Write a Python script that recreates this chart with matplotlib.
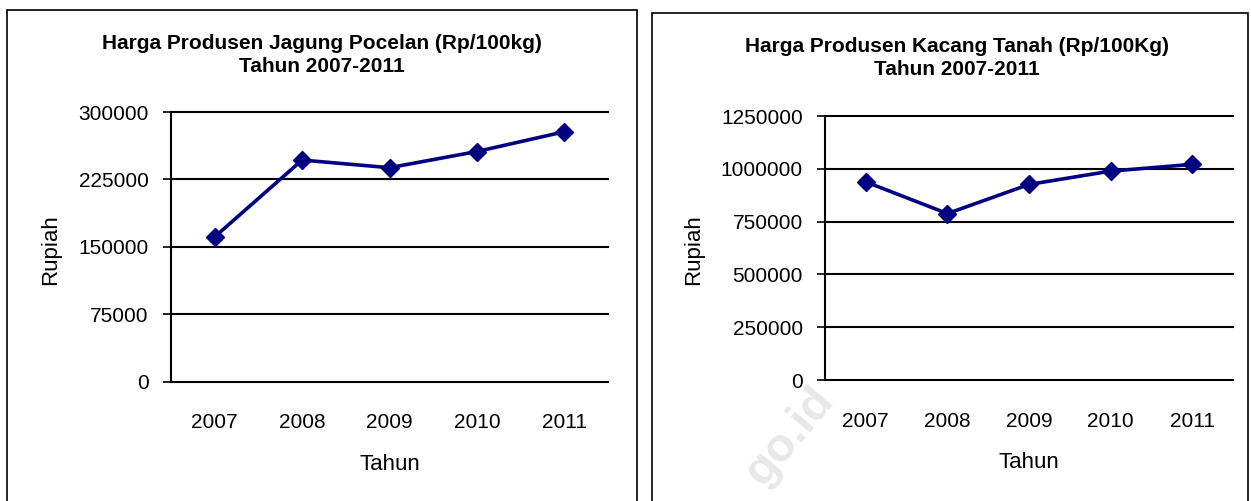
import matplotlib.pyplot as plt
from matplotlib.patches import Rectangle

# data
years = ['2007', '2008', '2009', '2010', '2011']
jagung = [161000, 246500, 238000, 256000, 278000]
kacang = [938000, 788000, 926000, 989000, 1021000]

jagung_ticks = [0, 75000, 150000, 225000, 300000]
kacang_ticks = [0, 250000, 500000, 750000, 1000000, 1250000]

titles = ['Harga Produsen Jagung Pocelan (Rp/100kg)\nTahun 2007-2011',
          'Harga Produsen Kacang Tanah (Rp/100Kg)\nTahun 2007-2011']

plt.rcParams['font.family'] = ['Liberation Sans', 'DejaVu Sans']

W, H = 1251, 501
fig = plt.figure(figsize=(W / 100, H / 100), dpi=100)


def px_box(x0, y0, x1, y1):
    # pixel box (top-left origin) -> figure fraction rect
    return [x0 / W, 1 - y1 / H, (x1 - x0) / W, (y1 - y0) / H]


def draw_panel(rect, values, ticks, title, title_x, title_y, ylab_x, xlab_y):
    ax = fig.add_axes(rect)
    x = range(len(values))
    ax.plot(x, values, color='#000080', lw=2.6, marker='D', ms=9.5, zorder=3)
    ax.set_xlim(-0.5, len(values) - 0.5)
    ax.set_ylim(ticks[0], ticks[-1])
    ax.set_yticks(ticks)
    ax.set_yticklabels([str(t) for t in ticks], fontsize=15)
    ax.set_xticks(list(x))
    ax.set_xticklabels(years, fontsize=15)
    ax.tick_params(axis='x', length=0, pad=23)
    ax.tick_params(axis='y', length=6, width=1.2, pad=10)
    for s in ['top', 'right', 'bottom']:
        ax.spines[s].set_visible(False)
    ax.spines['left'].set_linewidth(1.5)
    for t in ticks:
        ax.axhline(t, color='black', lw=1.5, zorder=1, clip_on=False)
    ax.set_facecolor('none')
    fig.text(title_x / W, 1 - title_y / H, title, ha='center', va='center',
             fontsize=15, fontweight='bold', linespacing=1.3)
    fig.text(ylab_x / W, 1 - 250 / H, 'Rupiah', rotation=90, ha='center',
             va='center', fontsize=16)
    fig.text((rect[0] + rect[2] / 2), 1 - xlab_y / H, 'Tahun', ha='center',
             va='center', fontsize=16)
    return ax


# panel frames
fig.add_artist(Rectangle((7 / W, -0.05), (637 - 7) / W, 1.05 - 10 / H,
                         transform=fig.transFigure, fill=False, ec='black', lw=1.2))
fig.add_artist(Rectangle((652 / W, -0.05), (1248 - 652) / W, 1.05 - 13 / H,
                         transform=fig.transFigure, fill=False, ec='black', lw=1.2))

# faint watermark
fig.text(790 / W, 1 - 437 / H, 'go.id', rotation=50, ha='center', va='center',
         fontsize=34, fontweight='bold', color='#e8e8e8', zorder=0)

draw_panel(px_box(171, 112, 608, 381.5), jagung, jagung_ticks, titles[0],
           322, 55, 51, 464)
draw_panel(px_box(825, 116, 1233, 380), kacang, kacang_ticks, titles[1],
           957, 58, 694, 463)

fig.savefig('out.png', dpi=100)
